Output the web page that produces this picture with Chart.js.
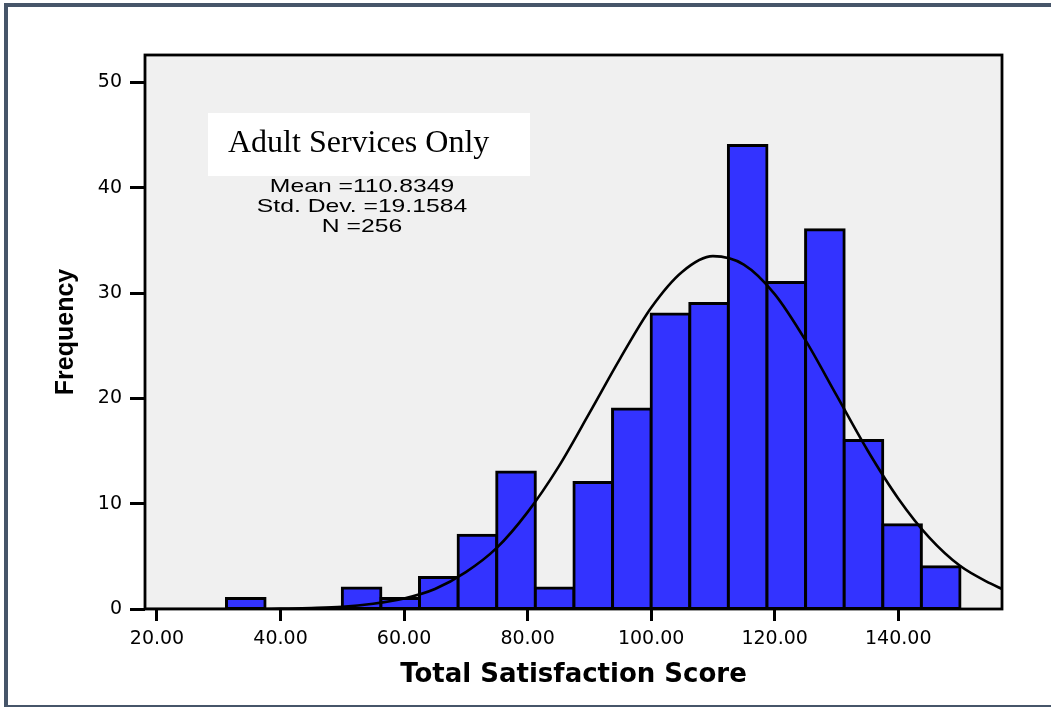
<!DOCTYPE html>
<html>
<head>
<meta charset="utf-8">
<script src="https://cdn.jsdelivr.net/npm/chart.js@4.4.0/dist/chart.umd.min.js"></script>
<style>
    html, body { margin: 0; padding: 0; background: #fff; overflow: hidden; }
    #cadre { position: absolute; left: 4px; top: 3px; width: 1100px; height: 706px; border: 4px solid #465569; box-sizing: border-box; }
    #grafico { position: absolute; left: 0; top: 0; }
</style>
</head>
<body>
<div id="cadre"></div>
<canvas id="grafico" width="1051" height="707"></canvas>
<script>
// histogram bins (lower edges + last upper edge) and counts
const binEdges = [31.25, 37.5, 43.75, 50, 56.25, 62.5, 68.75, 75, 81.25, 87.5, 93.75, 100, 106.25, 112.5, 118.75, 125, 131.25, 137.5, 143.75, 150];
const frequencies = [1, 0, 0, 2, 1, 3, 7, 13, 2, 12, 19, 28, 29, 44, 31, 36, 16, 8, 4];

// normal curve
const curveX = [18, 25, 30, 35, 40, 45, 50, 55, 60, 65, 70, 75, 80, 85, 90, 95, 100, 105, 110, 115, 120, 125, 130, 135, 140, 145, 150, 155, 156.8];
const curveY = [0, 0, 0, 0, 0.04, 0.09, 0.2, 0.5, 1.0, 1.9, 3.5, 5.8, 9.2, 13.5, 18.6, 23.8, 28.6, 32.0, 33.5, 32.7, 29.9, 25.5, 20.3, 15.1, 10.5, 6.8, 4.1, 2.4, 1.9];

const xTicks = [20, 40, 60, 80, 100, 120, 140];
const yTicks = [0, 10, 20, 30, 40, 50];

const panelTitle = "Adult Services Only";
const statsLines = ["Mean =110.8349", "Std. Dev. =19.1584", "N =256"];

const fond = {
    id: "fond",
    beforeDatasetsDraw(chart) {
        const { ctx, chartArea: a } = chart;
        ctx.save();
        ctx.fillStyle = "#f0f0f0";
        ctx.fillRect(a.left, a.top, a.right - a.left, a.bottom - a.top);

        ctx.fillStyle = "#fff";
        ctx.fillRect(a.left + 63, a.top + 58, 322, 63);

        ctx.fillStyle = "#000";
        ctx.textBaseline = "alphabetic";
        ctx.font = '32px "Liberation Serif", "Times New Roman", serif';
        ctx.fillText(panelTitle, a.left + 83, a.top + 97);

        ctx.font = '19px "Liberation Sans", Arial, sans-serif';
        ctx.textAlign = "center";
        statsLines.forEach((t, i) => {
            ctx.save();
            ctx.translate(a.left + 217, a.top + 137 + i * 20);
            ctx.scale(1.3, 1);
            ctx.fillText(t, 0, 0);
            ctx.restore();
        });
        ctx.restore();
    },
    afterDatasetsDraw(chart) {
        const { ctx, chartArea: a } = chart;
        ctx.save();
        ctx.strokeStyle = "#000";
        ctx.lineWidth = 2.8;
        ctx.strokeRect(a.left, a.top, a.right - a.left, a.bottom - a.top);
        ctx.restore();
    },
};

const tickFont = { family: "DejaVu Sans", size: 19 };

new Chart(document.getElementById("grafico"), {
    type: "bar",
    data: {
        datasets: [
            {
                type: "line",
                data: curveX.map((x, i) => ({ x: x, y: curveY[i] })),
                borderColor: "#000",
                borderWidth: 2.6,
                pointRadius: 0,
                cubicInterpolationMode: "monotone",
                fill: false,
                order: 0,
            },
            {
                type: "bar",
                data: frequencies.map((f, i) => ({ x: (binEdges[i] + binEdges[i + 1]) / 2, y: f })),
                backgroundColor: "#3333ff",
                borderColor: "#000",
                borderWidth: 3,
                inflateAmount: 1.5,
                borderSkipped: false,
                barPercentage: 1,
                categoryPercentage: 1,
                order: 1,
            },
        ],
    },
    options: {
        responsive: false,
        devicePixelRatio: 1,
        animation: false,
        layout: { padding: { left: 0, top: 55, right: 49, bottom: 0 } },
        plugins: { legend: { display: false }, tooltip: { enabled: false } },
        scales: {
            x: {
                type: "linear",
                min: 18.06,
                max: 156.8,
                offset: false,
                afterFit: (s) => { s.height = 98; },
                afterBuildTicks: (s) => { s.ticks = xTicks.map((v) => ({ value: v })); },
                grid: { offset: false, drawOnChartArea: false, drawTicks: true, tickLength: 12, tickColor: "#000", tickWidth: 3 },
                border: { display: false },
                ticks: { font: tickFont, color: "#000", padding: 7, maxRotation: 0, autoSkip: false, callback: (v) => Number(v).toFixed(2) },
                title: {
                    display: true,
                    text: "Total Satisfaction Score",
                    color: "#000",
                    font: { family: "DejaVu Sans", size: 26, weight: "bold" },
                    padding: { top: 0, bottom: 16 },
                },
            },
            y: {
                min: 0,
                max: 52.6,
                afterFit: (s) => { s.width = 145; },
                afterBuildTicks: (s) => { s.ticks = yTicks.map((v) => ({ value: v })); },
                grid: { drawOnChartArea: false, drawTicks: true, tickLength: 15, tickColor: "#000", tickWidth: 3 },
                border: { display: false },
                ticks: { font: tickFont, color: "#000", padding: 8 },
                title: {
                    display: true,
                    text: "Frequency",
                    color: "#000",
                    font: { family: "Liberation Sans", size: 25, weight: "bold" },
                    padding: { top: 51, bottom: 0 },
                },
            },
        },
    },
    plugins: [fond],
});
</script>
</body>
</html>
